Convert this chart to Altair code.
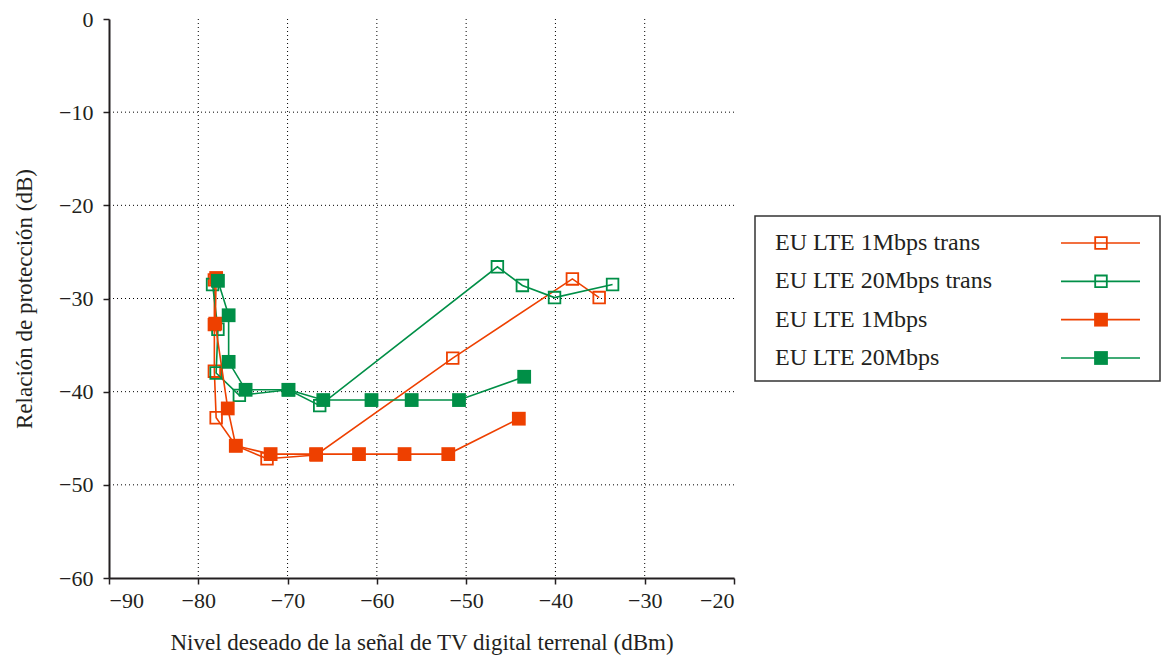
import altair as alt
import pandas as pd

# ---------------- data ----------------
series_names = ["EU LTE 1Mbps trans", "EU LTE 20Mbps trans", "EU LTE 1Mbps", "EU LTE 20Mbps"]
series_colors = ["#EE4000", "#008F47", "#EE4000", "#008F47"]
series_filled = [False, False, True, True]

x_1m_trans = [-78.2, -78.2, -78.2, -78.0, -75.8, -72.3, -66.8, -51.5, -38.1, -35.1]
y_1m_trans = [-28.0, -32.8, -37.8, -42.8, -45.8, -47.2, -46.8, -36.4, -27.9, -29.9]

x_20m_trans = [-78.4, -77.8, -78.0, -75.4, -69.9, -66.4, -46.5, -43.7, -40.1, -33.6]
y_20m_trans = [-28.5, -33.3, -38.0, -40.4, -39.8, -41.5, -26.6, -28.6, -29.9, -28.5]

x_1m = [-78.0, -78.1, -76.7, -75.8, -71.9, -66.8, -62.0, -56.9, -52.0, -44.1]
y_1m = [-27.8, -32.7, -41.8, -45.8, -46.7, -46.7, -46.7, -46.7, -46.7, -42.9]

x_20m = [-77.8, -76.6, -76.6, -74.7, -69.9, -66.0, -60.6, -56.1, -50.8, -43.5]
y_20m = [-28.1, -31.8, -36.8, -39.8, -39.8, -40.9, -40.9, -40.9, -40.9, -38.4]

x_ticks = [-90, -80, -70, -60, -50, -40, -30, -20]
y_ticks = [-60, -50, -40, -30, -20, -10, 0]
x_grid = [-80, -70, -60, -50, -40, -30]
y_grid = [-50, -40, -30, -20, -10]

series_x = [x_1m_trans, x_20m_trans, x_1m, x_20m]
series_y = [y_1m_trans, y_20m_trans, y_1m, y_20m]

FONT = "Liberation Serif"
TXT = "#231F20"

xscale = alt.Scale(domain=[-90, -20], nice=False, zero=False)
yscale = alt.Scale(domain=[-60, 0], nice=False, zero=False)

x_axis = alt.Axis(values=x_ticks, title="Nivel deseado de la señal de TV digital terrenal (dBm)",
                  grid=False, labelPadding=6.5, titlePadding=20)
y_axis = alt.Axis(values=y_ticks, title="Relación de protección (dB)",
                  grid=False, labelPadding=10, titlePadding=22)

# grid (dotted)
grid_v = alt.Chart(pd.DataFrame({"x": x_grid})).mark_rule(
    color="black", strokeWidth=1, strokeDash=[1, 3]
).encode(x=alt.X("x:Q", scale=xscale, axis=x_axis))
grid_h = alt.Chart(pd.DataFrame({"y": y_grid})).mark_rule(
    color="black", strokeWidth=1, strokeDash=[1, 3]
).encode(y=alt.Y("y:Q", scale=yscale, axis=y_axis))

layers = [grid_v, grid_h]
for name, xs, ys, col, filled in zip(series_names, series_x, series_y, series_colors, series_filled):
    df = pd.DataFrame({"x": xs, "y": ys, "i": list(range(len(xs))), "s": name})
    base = alt.Chart(df).encode(
        x=alt.X("x:Q", scale=xscale, axis=x_axis),
        y=alt.Y("y:Q", scale=yscale, axis=y_axis),
    )
    line = base.mark_line(color=col, strokeWidth=1.6).encode(order="i:Q")
    if filled:
        pts = base.mark_point(shape="square", filled=True, size=190, color=col, opacity=1)
    else:
        pts = base.mark_point(shape="square", filled=False, size=135, color=col,
                              strokeWidth=1.8, opacity=1)
    layers += [line, pts]

main = alt.layer(*layers).properties(width=625, height=559)

# ---------------- legend panel ----------------
leg_df = pd.DataFrame({"name": series_names, "color": series_colors, "filled": series_filled})
ly = alt.Y("name:N", sort=series_names,
           scale=alt.Scale(type="point", domain=series_names, range=[27, 142], padding=0), axis=None)
lcol = alt.Color("name:N", scale=alt.Scale(domain=series_names, range=series_colors), legend=None)
leg_base = alt.Chart(leg_df)
leg_text = leg_base.mark_text(align="left", baseline="middle", font=FONT, fontSize=24, color=TXT).encode(
    x=alt.value(20), y=ly, text="name:N")
leg_rule = leg_base.mark_rule(strokeWidth=1.6).encode(
    x=alt.value(306), x2=alt.value(385), y=ly, color=lcol)
leg_open = leg_base.transform_filter("!datum.filled").mark_point(
    shape="square", filled=False, size=135, strokeWidth=1.8, opacity=1).encode(
    x=alt.value(346), y=ly, color=lcol)
leg_fill = leg_base.transform_filter("datum.filled").mark_point(
    shape="square", filled=True, size=190, opacity=1).encode(
    x=alt.value(346), y=ly, color=lcol)
legend = alt.layer(leg_text, leg_rule, leg_open, leg_fill).properties(
    width=405, height=165, view=alt.ViewBackground(stroke="#333333", strokeWidth=1.5))

chart = alt.hconcat(main, legend, spacing=21, bounds="flush", center=True).properties(
    padding={"left": 5, "top": 0, "right": 0, "bottom": 0}
).configure_view(stroke=None).configure_axis(
    labelFont=FONT, labelFontSize=22, labelColor=TXT,
    titleFont=FONT, titleFontSize=23, titleFontWeight="normal", titleColor=TXT,
    domainColor="#231F20", domainWidth=2, tickColor="#231F20", tickWidth=1.5, tickSize=6,
)

chart.save("out.html", embed_options={"renderer": "svg", "actions": False})
